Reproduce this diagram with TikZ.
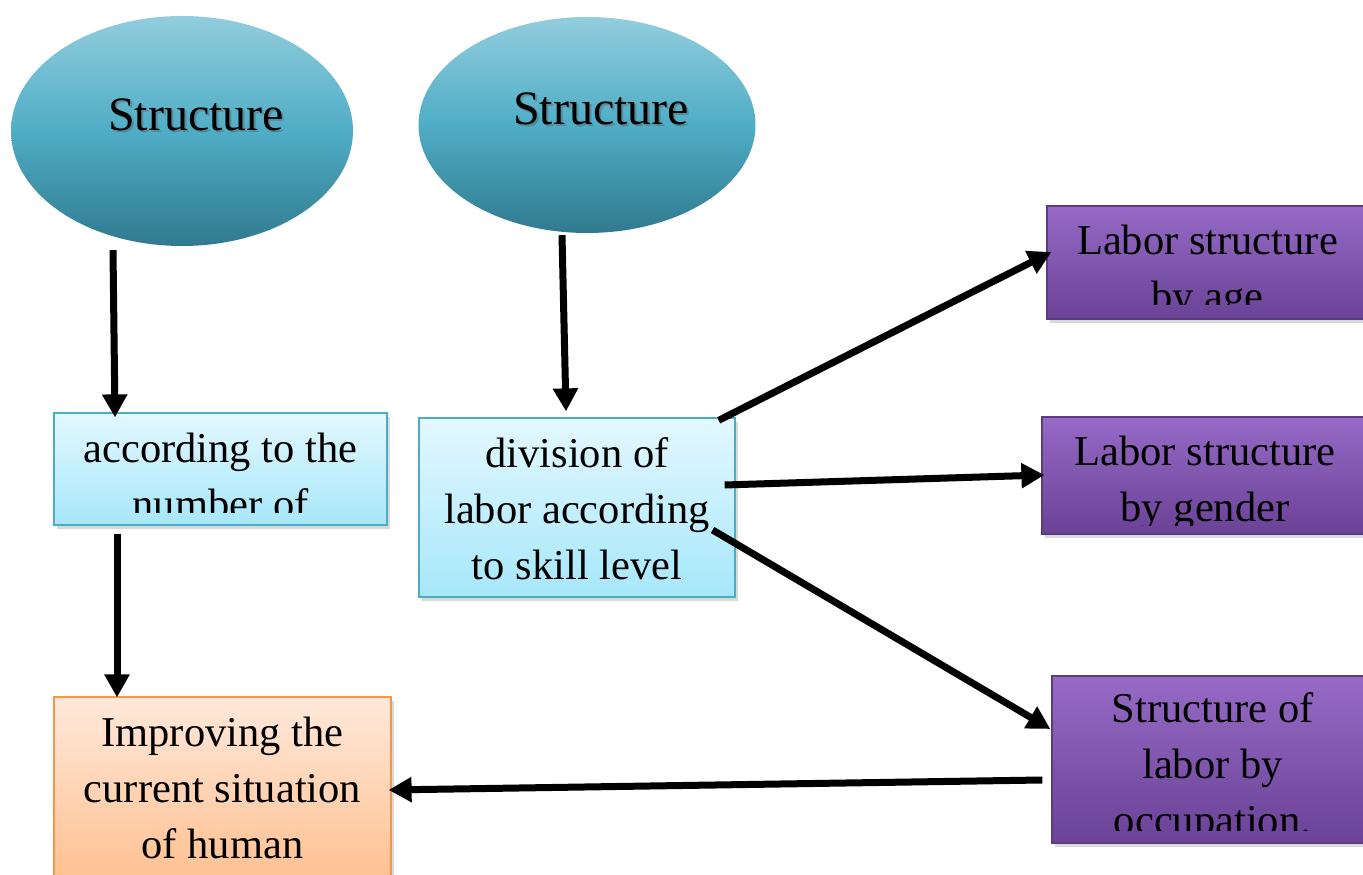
\documentclass[tikz,border=0pt]{standalone}
\usepackage{fontspec}
\setmainfont{Liberation Serif}
\usetikzlibrary{shapes.geometric,arrows.meta,shadows}
\definecolor{ovaltop}{RGB}{146,205,221}
\definecolor{ovalmid}{RGB}{79,173,198}
\definecolor{ovalbot}{RGB}{48,122,142}
\definecolor{skytop}{RGB}{228,248,255}
\definecolor{skybot}{RGB}{166,231,250}
\definecolor{skyline}{RGB}{75,172,198}
\definecolor{peachtop}{RGB}{255,232,218}
\definecolor{peachbot}{RGB}{255,190,140}
\definecolor{peachline}{RGB}{247,150,70}
\definecolor{plumtop}{RGB}{150,106,198}
\definecolor{plumbot}{RGB}{106,66,150}
\definecolor{plumline}{RGB}{92,60,128}
\newcommand{\ovalfont}{\fontsize{48}{58}\selectfont}
\newcommand{\boxfont}{\fontsize{42.5}{56}\selectfont}

\begin{document}
\begin{tikzpicture}[x=1pt,y=1pt]
    \tikzstyle{oval} = [ellipse, draw=none, top color=ovaltop, bottom color=ovalbot, middle color=ovalmid, inner sep=0pt]
    \tikzstyle{boxshadow} = [drop shadow={shadow xshift=3pt, shadow yshift=-4pt, opacity=0.25, fill=black!60}]
    \tikzstyle{skybox} = [rectangle, draw=skyline, line width=1.2pt, top color=skytop, bottom color=skybot, inner sep=0pt, boxshadow]
    \tikzstyle{peachbox} = [rectangle, draw=peachline, line width=1.2pt, top color=peachtop, bottom color=peachbot, inner sep=0pt, boxshadow]
    \tikzstyle{plumbox} = [rectangle, draw=plumline, line width=1.2pt, top color=plumtop, bottom color=plumbot, inner sep=0pt, boxshadow]
    \tikzstyle{link} = [line width=7pt, -{Triangle[length=23pt,width=24pt]}]
    \tikzset{
        ovaltext/.style={path picture={
            \node[font=\ovalfont, text=black!70, opacity=0.35] at ([shift={(16pt,14pt)}]path picture bounding box.center) {#1};
            \node[font=\ovalfont] at ([shift={(14pt,16pt)}]path picture bounding box.center) {#1};}},
        % first baseline below the top, cut above the bottom, lines
        boxtext/.style n args={3}{path picture={
            \clip ([yshift=#2]path picture bounding box.south west) rectangle (path picture bounding box.north east);
            \foreach \ln [count=\i from 0] in {#3}
                \node[anchor=base, inner sep=0pt, font=\boxfont] at ([yshift={-#1-56pt*\i}]path picture bounding box.north) {\ln};}}
    }
    \useasboundingbox (0,0) rectangle (1363,875);

    \node[oval, minimum width=342pt, minimum height=230pt, ovaltext={Structure}] (st1) at (182,744) {};
    \node[oval, minimum width=337pt, minimum height=216pt, ovaltext={Structure}] (st2) at (587,750) {};

    \node[skybox, minimum width=333pt, minimum height=112pt, boxtext={50pt}{12pt}{according to the,number of}] (num) at (220.5,406) {};
    \node[skybox, minimum width=316pt, minimum height=179pt, boxtext={50pt}{8pt}{division of,labor according,to skill level}] (skill) at (577,367.5) {};
    \node[peachbox, minimum width=337pt, minimum height=195pt, boxtext={50pt}{8pt}{Improving the,current situation,of human}] (improve) at (222.5,80.5) {};

    \node[plumbox, minimum width=321pt, minimum height=113pt, boxtext={49pt}{14pt}{Labor structure,by age}] (age) at (1207.5,612.5) {};
    \node[plumbox, minimum width=326pt, minimum height=117pt, boxtext={49pt}{8pt}{Labor structure,by gender}] (gender) at (1205,399.5) {};
    \node[plumbox, minimum width=321pt, minimum height=167pt, boxtext={47pt}{12pt}{Structure of,labor by,occupation.}] (occup) at (1212.5,115.5) {};

    \draw[link] ([shift={(-69,-4)}]st1.south) -- ([shift={(-105.5,-5)}]num.north);
    \draw[link] ([shift={(-103.5,-8)}]num.south) -- ([shift={(-105.5,-1)}]improve.north);
    \draw[link] ([shift={(-25,-2)}]st2.south) -- ([shift={(-11,6)}]skill.north);
    \draw[link] ([shift={(-17,-3)}]skill.north east) -- ([shift={(5,10.5)}]age.west);
    \draw[link] ([shift={(-11,22.5)}]skill.east) -- ([shift={(3,0.5)}]gender.west);
    \draw[link] ([shift={(-23,-22.5)}]skill.east) -- ([shift={(-1,30.5)}]occup.west);
    \draw[link] ([shift={(-9,-20.5)}]occup.west) -- ([shift={(-3,4.5)}]improve.east);
\end{tikzpicture}
\end{document}
